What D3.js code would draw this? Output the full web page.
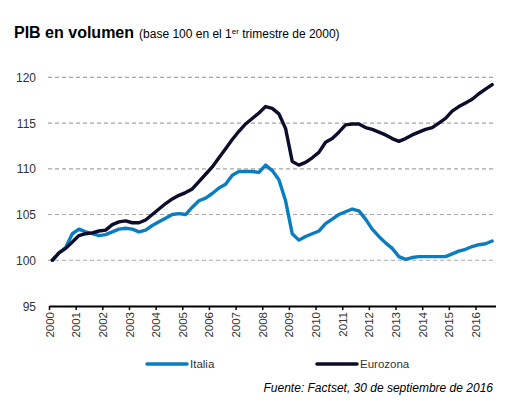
<!DOCTYPE html>
<html><head><meta charset="utf-8">
<script src="https://cdn.jsdelivr.net/npm/d3@7/dist/d3.min.js"></script>
<style>
body{margin:0;background:#fff;}
svg{font-family:"Liberation Sans",Arial,sans-serif;}
</style></head>
<body><svg id="c" width="519" height="404"></svg>
<script>
const years = d3.range(2000, 2017);
const yTicks = [95, 100, 105, 110, 115, 120];
const seriesNames = ["Italia", "Eurozona"];
// Quarterly values, 2000Q1 .. 2016Q3
const italia = [
 100.0,100.8,101.4,102.9, 103.4,103.1,102.9,102.7, 102.8,103.1,103.4,103.5,
 103.4,103.1,103.3,103.8, 104.2,104.6,105.0,105.1, 105.0,105.8,106.5,106.8,
 107.3,107.9,108.3,109.3, 109.7,109.7,109.7,109.6, 110.4,109.8,108.8,106.5,
 102.9,102.2,102.6,102.9, 103.2,104.0,104.5,105.0, 105.3,105.6,105.4,104.5,
 103.4,102.6,101.9,101.3, 100.4,100.1,100.3,100.4, 100.4,100.4,100.4,100.4,
 100.7,101.0,101.2,101.5, 101.7,101.8,102.1
];
const eurozona = [
 100.0,100.8,101.3,102.0, 102.7,102.9,103.0,103.2, 103.3,103.9,104.2,104.3,
 104.1,104.1,104.4,105.0, 105.6,106.2,106.7,107.1, 107.4,107.8,108.6,109.4,
 110.2,111.2,112.2,113.2, 114.1,114.9,115.5,116.1, 116.8,116.6,116.0,114.4,
 110.8,110.4,110.7,111.2, 111.8,112.9,113.3,114.0, 114.8,114.9,114.9,114.5,
 114.3,114.0,113.7,113.3, 113.0,113.3,113.7,114.0, 114.3,114.5,115.0,115.5,
 116.3,116.8,117.2,117.6, 118.2,118.7,119.2
];
const colors = ["#0a7dc2", "#0b0d2a"];

const svg = d3.select("#c");
const x = d3.scaleLinear().domain([2000, 2016.75]).range([49, 495.5]);
const y = d3.scaleLinear().domain([95, 120]).range([306, 77.3]);
const tq = i => 2000 + (i + 0.5) / 4;

// title
const t = svg.append("text").attr("x", 14).attr("y", 38).attr("fill", "#000");
t.append("tspan").attr("font-size", 16).attr("font-weight", "bold").text("PIB en volumen");
t.append("tspan").attr("font-size", 12).attr("dx", 5).text("(base 100 en el 1");
t.append("tspan").attr("font-size", 8).attr("dy", -4).text("er");
t.append("tspan").attr("font-size", 12).attr("dy", 4).text(" trimestre de 2000)");

// grid
svg.append("g").selectAll("line").data(yTicks.filter(v => v > 95)).join("line")
  .attr("x1", 48).attr("x2", 495).attr("y1", d => y(d)).attr("y2", d => y(d))
  .attr("stroke", "#a6a6a6").attr("stroke-width", 1.2).attr("stroke-dasharray", "4,3");

// y labels
svg.append("g").selectAll("text").data(yTicks).join("text")
  .attr("x", 36).attr("y", d => y(d) + 4.5).attr("text-anchor", "end")
  .attr("font-size", 12).attr("fill", "#333").text(d => d);

// x axis
const xa = svg.append("g").attr("transform", "translate(0,306)")
  .call(d3.axisBottom(x).tickValues(years).tickFormat(d3.format("d")).tickSize(4).tickSizeOuter(0));
xa.select(".domain").attr("stroke", "#000").attr("stroke-width", 2);
xa.selectAll(".tick line").attr("stroke", "#000").attr("stroke-width", 1.5);
xa.selectAll(".tick text").attr("font-size", 11.5).attr("fill", "#333")
  .attr("font-family", "Liberation Sans, Arial, sans-serif")
  .attr("transform", "rotate(-90)").attr("text-anchor", "end")
  .attr("x", -6).attr("y", 0).attr("dy", "0.35em");

// lines
const line = d3.line().x((d, i) => x(tq(i))).y(d => y(d)).curve(d3.curveLinear);
[italia, eurozona].forEach((s, k) => {
  svg.append("path").datum(s).attr("d", line).attr("fill", "none")
    .attr("stroke", colors[k]).attr("stroke-width", 3.4)
    .attr("stroke-linejoin", "round").attr("stroke-linecap", "round");
});

// legend
const lx = [147, 317];
seriesNames.forEach((n, k) => {
  svg.append("line").attr("x1", lx[k]).attr("x2", lx[k] + 40).attr("y1", 364).attr("y2", 364)
    .attr("stroke", colors[k]).attr("stroke-width", 3.5).attr("stroke-linecap", "round");
  svg.append("text").attr("x", lx[k] + 43).attr("y", 368).attr("font-size", 11.5)
    .attr("fill", "#333").text(n);
});

// source
svg.append("text").attr("x", 493).attr("y", 392).attr("text-anchor", "end")
  .attr("font-size", 12).attr("font-style", "italic").attr("fill", "#000")
  .text("Fuente: Factset, 30 de septiembre de 2016");
</script></body></html>
